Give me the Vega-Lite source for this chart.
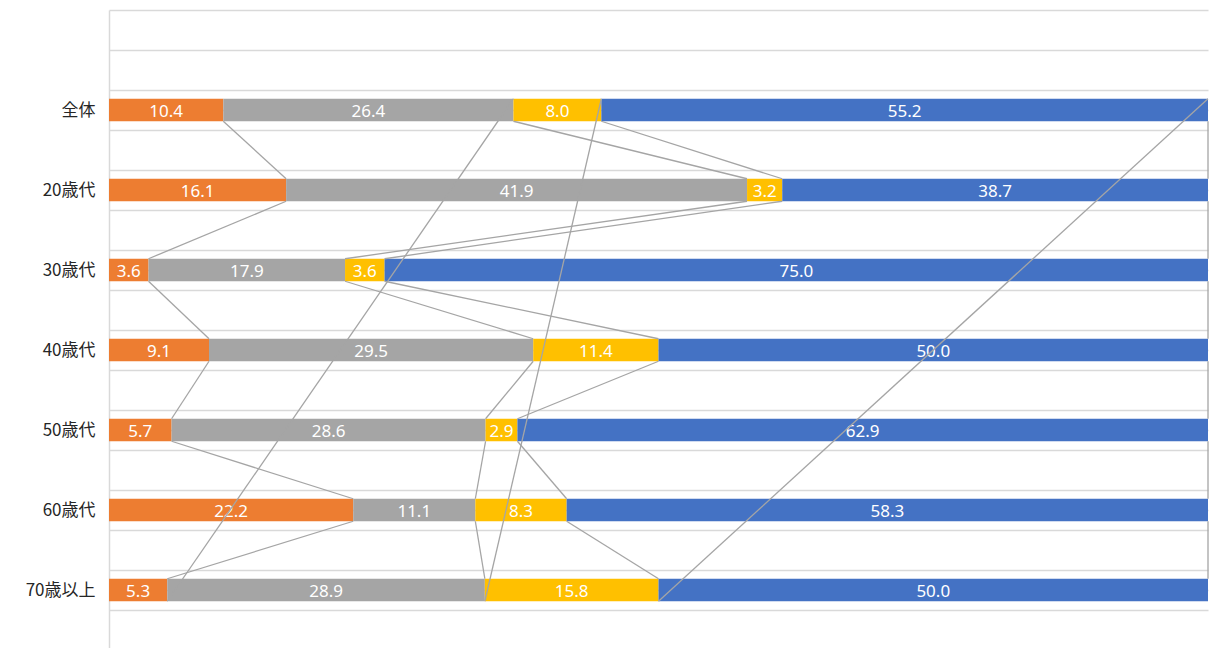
{
  "$schema": "https://vega.github.io/schema/vega-lite/v6.json",
  "width": 1099,
  "height": 638,
  "autosize": {"type": "none"},
  "padding": {"left": 109, "top": 10, "right": 3, "bottom": 0},
  "background": "white",
  "config": {"view": {"stroke": null}, "font": "Noto Sans"},
  "data": {
    "values": [
      {"cat": "全体", "idx": 0, "series": "系列1", "sidx": 1, "value": 10.4},
      {"cat": "全体", "idx": 0, "series": "系列2", "sidx": 2, "value": 26.4},
      {"cat": "全体", "idx": 0, "series": "系列3", "sidx": 3, "value": 8.0},
      {"cat": "全体", "idx": 0, "series": "系列4", "sidx": 4, "value": 55.2},
      {"cat": "20歳代", "idx": 1, "series": "系列1", "sidx": 1, "value": 16.1},
      {"cat": "20歳代", "idx": 1, "series": "系列2", "sidx": 2, "value": 41.9},
      {"cat": "20歳代", "idx": 1, "series": "系列3", "sidx": 3, "value": 3.2},
      {"cat": "20歳代", "idx": 1, "series": "系列4", "sidx": 4, "value": 38.7},
      {"cat": "30歳代", "idx": 2, "series": "系列1", "sidx": 1, "value": 3.6},
      {"cat": "30歳代", "idx": 2, "series": "系列2", "sidx": 2, "value": 17.9},
      {"cat": "30歳代", "idx": 2, "series": "系列3", "sidx": 3, "value": 3.6},
      {"cat": "30歳代", "idx": 2, "series": "系列4", "sidx": 4, "value": 75.0},
      {"cat": "40歳代", "idx": 3, "series": "系列1", "sidx": 1, "value": 9.1},
      {"cat": "40歳代", "idx": 3, "series": "系列2", "sidx": 2, "value": 29.5},
      {"cat": "40歳代", "idx": 3, "series": "系列3", "sidx": 3, "value": 11.4},
      {"cat": "40歳代", "idx": 3, "series": "系列4", "sidx": 4, "value": 50.0},
      {"cat": "50歳代", "idx": 4, "series": "系列1", "sidx": 1, "value": 5.7},
      {"cat": "50歳代", "idx": 4, "series": "系列2", "sidx": 2, "value": 28.6},
      {"cat": "50歳代", "idx": 4, "series": "系列3", "sidx": 3, "value": 2.9},
      {"cat": "50歳代", "idx": 4, "series": "系列4", "sidx": 4, "value": 62.9},
      {"cat": "60歳代", "idx": 5, "series": "系列1", "sidx": 1, "value": 22.2},
      {"cat": "60歳代", "idx": 5, "series": "系列2", "sidx": 2, "value": 11.1},
      {"cat": "60歳代", "idx": 5, "series": "系列3", "sidx": 3, "value": 8.3},
      {"cat": "60歳代", "idx": 5, "series": "系列4", "sidx": 4, "value": 58.3},
      {"cat": "70歳以上", "idx": 6, "series": "系列1", "sidx": 1, "value": 5.3},
      {"cat": "70歳以上", "idx": 6, "series": "系列2", "sidx": 2, "value": 28.9},
      {"cat": "70歳以上", "idx": 6, "series": "系列3", "sidx": 3, "value": 15.8},
      {"cat": "70歳以上", "idx": 6, "series": "系列4", "sidx": 4, "value": 50.0}
    ]
  },
  "encoding": {
    "y": {
      "field": "idx",
      "type": "quantitative",
      "scale": {"domain": [-1.25, 6.725], "reverse": true, "nice": false, "zero": false, "padding": 0},
      "axis": {
        "title": null,
        "values": [-1.25, -0.75, -0.25, 0, 0.25, 0.75, 1, 1.25, 1.75, 2, 2.25, 2.75, 3, 3.25, 3.75, 4, 4.25, 4.75, 5, 5.25, 5.75, 6, 6.25],
        "grid": true,
        "gridColor": "#d9d9d9",
        "gridWidth": 1.5,
        "domainColor": "#d9d9d9",
        "domainWidth": 1.5,
        "ticks": false,
        "labelPadding": 14,
        "labelFont": "Noto Sans CJK JP",
        "labelFontSize": 17,
        "labelColor": "#262626",
        "labelOverlap": false,
        "labelFlush": false,
        "labelExpr": "datum.value % 1 === 0 ? ['全体','20歳代','30歳代','40歳代','50歳代','60歳代','70歳以上'][datum.value] : ''"
      }
    }
  },
  "layer": [
    {
      "mark": {"type": "bar", "orient": "horizontal", "size": 22.5},
      "encoding": {
        "x": {"field": "value", "type": "quantitative", "stack": "normalize", "scale": {"domain": [0, 1], "nice": false, "padding": 0}, "axis": null},
        "color": {
          "field": "series",
          "type": "nominal",
          "scale": {"domain": ["系列1", "系列2", "系列3", "系列4"], "range": ["#ED7D31", "#A5A5A5", "#FFC000", "#4472C4"]},
          "legend": null
        },
        "order": {"field": "sidx"}
      }
    },
    {
      "mark": {"type": "text", "color": "white", "fontSize": 17, "baseline": "middle", "align": "center", "dy": 1.5},
      "encoding": {
        "x": {"field": "value", "type": "quantitative", "stack": "normalize", "bandPosition": 0.5},
        "detail": {"field": "series"},
        "order": {"field": "sidx"},
        "text": {"field": "value", "type": "quantitative", "format": ".1f"}
      }
    },
    {
      "transform": [
        {"joinaggregate": [{"op": "sum", "field": "value", "as": "total"}], "groupby": ["cat"]},
        {"window": [{"op": "sum", "field": "value", "as": "cum"}], "groupby": ["cat"], "sort": [{"field": "sidx"}], "frame": [null, 0]},
        {"calculate": "datum.cum / datum.total", "as": "frac"},
        {"window": [{"op": "lead", "field": "frac", "as": "nextFrac"}, {"op": "lead", "field": "idx", "as": "nextIdx"}], "sort": [{"field": "sidx"}, {"field": "idx"}]},
        {"filter": "datum.nextFrac != null"}
      ],
      "mark": {"type": "rule", "color": "#a5a5a5", "strokeWidth": 1.3, "yOffset": 11.25, "y2Offset": -11.25},
      "encoding": {
        "x": {"field": "frac", "type": "quantitative"},
        "x2": {"field": "nextFrac"},
        "y2": {"field": "nextIdx"}
      }
    }
  ]
}
